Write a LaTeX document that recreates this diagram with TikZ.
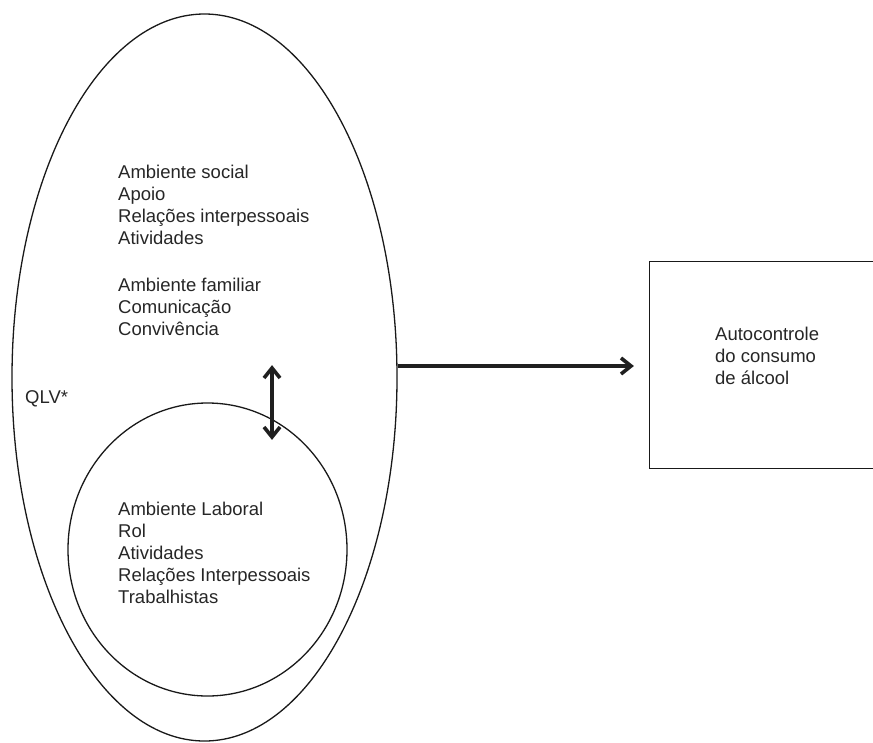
\documentclass[tikz,border=0pt]{standalone}
\usepackage{fontspec}
\setmainfont{Liberation Sans}
\usetikzlibrary{shapes.geometric}
\begin{document}
\begin{tikzpicture}[x=1pt,y=-1pt,
  shapeline/.style={draw=black!90,line width=1.3pt},
  txt/.style={anchor=north west,inner sep=0pt,align=left,text=black!85,
    font=\fontsize{18.5}{22}\selectfont},
  shaft/.style={line width=3.6pt,draw=black!88},
  chevron/.style={line width=3.6pt,draw=black!88,line join=miter,line cap=butt}]
\useasboundingbox (0,0) rectangle (873,742);
\clip (0,0) rectangle (873,742);
% outer ellipse
\node[shapeline,ellipse,minimum width=385pt,minimum height=727pt,inner sep=0pt] (outer) at (204.5,377.5) {};
% inner circle
\node[shapeline,ellipse,minimum width=279pt,minimum height=293pt,inner sep=0pt] (inner) at (207.5,549.5) {};
% box (runs off the right edge)
\node[shapeline,rectangle,minimum width=260pt,minimum height=207pt,inner sep=0pt,anchor=north west] (box) at (649,261) {};
% texts
\node[txt] (social) at (118,164.5) {\rule{0pt}{14pt}Ambiente social\\Apoio\\Relações interpessoais\\Atividades};
\node[txt] (familiar) at (118,277.5) {\rule{0pt}{14pt}Ambiente familiar\\Comunicação\\Convivência};
\node[txt] (laboral) at (118,501) {\rule{0pt}{14pt}Ambiente Laboral\\Rol\\Atividades\\Relações Interpessoais\\Trabalhistas};
\node[txt] (auto) at (715,326) {\rule{0pt}{14pt}Autocontrole\\do consumo\\de álcool};
\node[txt] (qlv) at (25,389.3) {\rule{0pt}{14pt}QLV*};
% horizontal arrow
\coordinate (ah) at (631,366);
\draw[shaft] (outer.east |- ah) -- ([shift={(-2,0)}]ah);
\draw[chevron] ([shift={(-10,-8)}]ah) -- (ah) -- ([shift={(-10,8)}]ah);
% vertical double arrow
\coordinate (dtop) at (272,368);
\coordinate (dbot) at (272,437);
\draw[shaft] ([shift={(0,2)}]dtop) -- ([shift={(0,-2)}]dbot);
\draw[chevron] ([shift={(-8,10)}]dtop) -- (dtop) -- ([shift={(8,10)}]dtop);
\draw[chevron] ([shift={(-8,-10)}]dbot) -- (dbot) -- ([shift={(8,-10)}]dbot);
\end{tikzpicture}
\end{document}
